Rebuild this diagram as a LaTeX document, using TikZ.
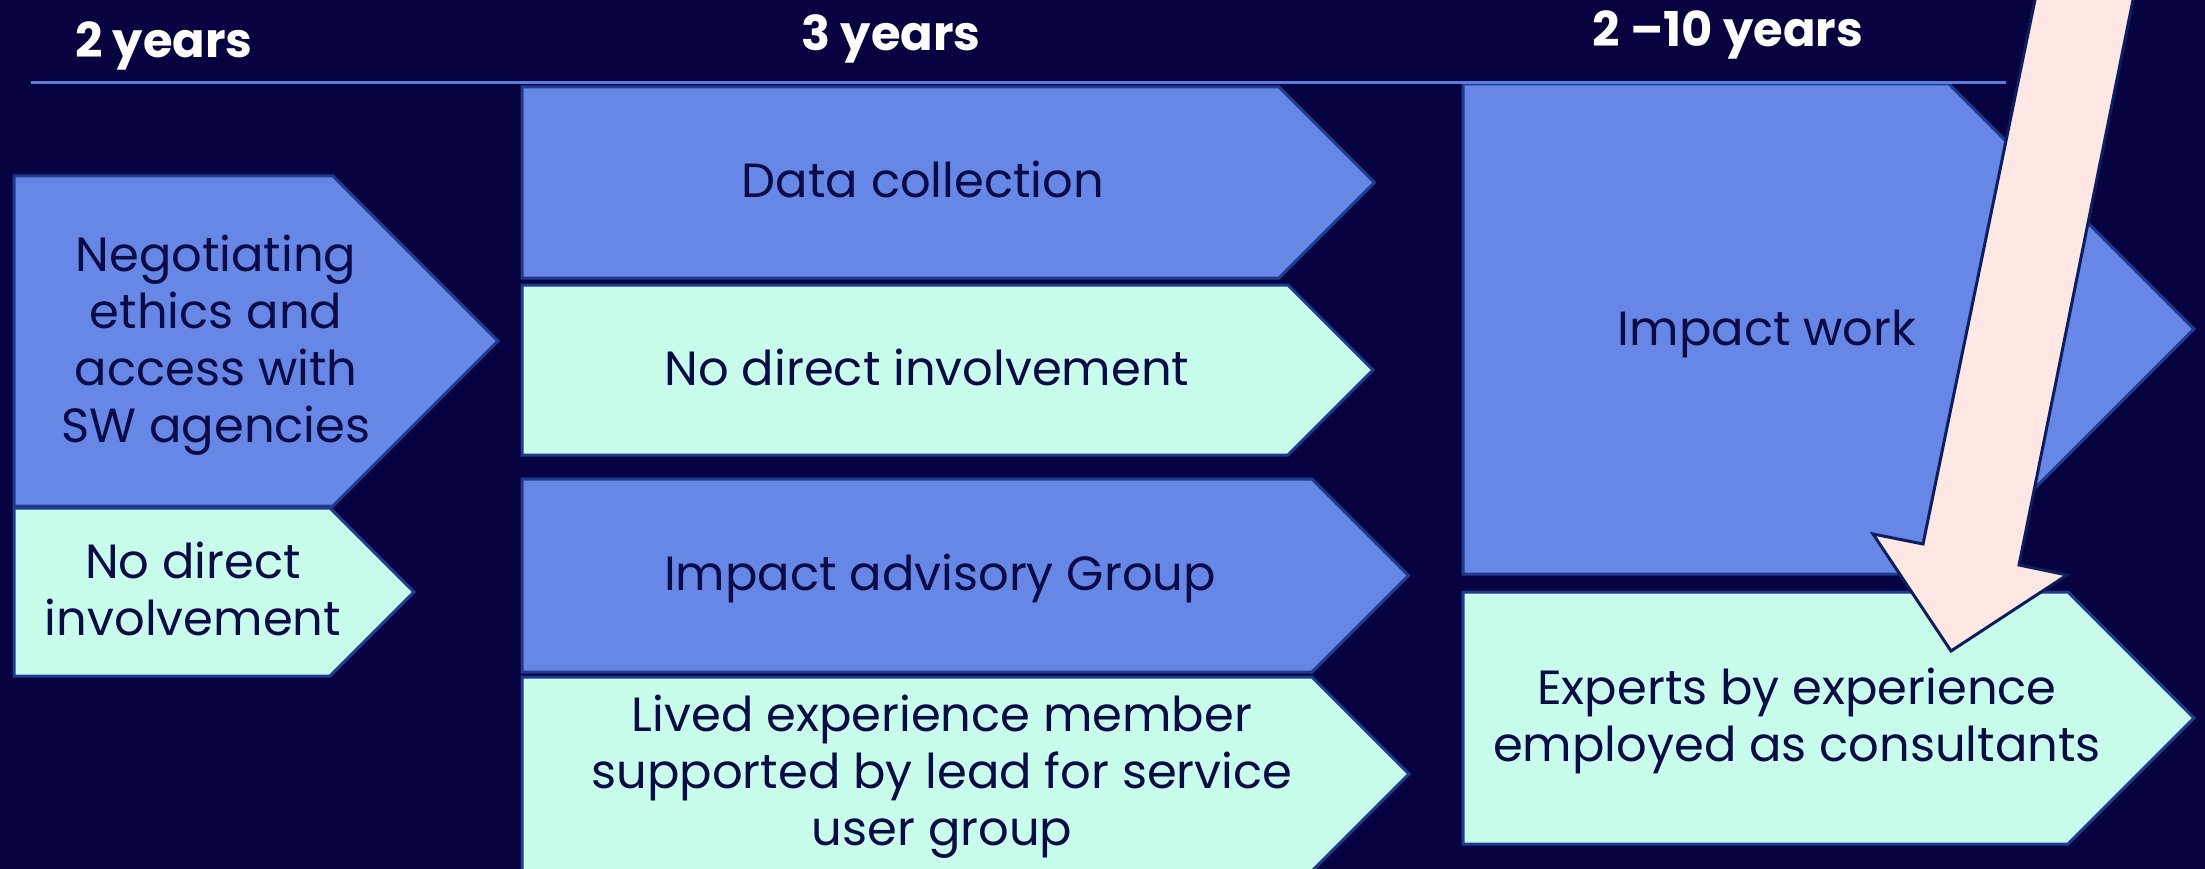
\documentclass[tikz,border=0pt]{standalone}
\usepackage{fontspec}
\setmainfont{Poppins}
\definecolor{bgc}{HTML}{060340}
\definecolor{bluefill}{HTML}{6787E7}
\definecolor{mintfill}{HTML}{C8FDEB}
\definecolor{pinkfill}{HTML}{FFE7E3}
\definecolor{boxline}{HTML}{1F3B8F}
\definecolor{arrowline}{HTML}{0D1E5E}
\definecolor{txt}{HTML}{0B0B46}
\definecolor{rule}{HTML}{5A7DE0}
\newcommand{\mychev}[5]{%
  \pgfmathsetmacro{\hh}{(#4-#2)/2}%
  \pgfmathsetmacro{\mm}{(#4+#2)/2}%
  \pgfmathsetmacro{\tt}{#3+\hh}%
  \filldraw[fill=#5, draw=boxline, line width=3pt, line join=miter]
    (#1,#2) -- (#3,#2) -- (\tt,\mm) -- (#3,#4) -- (#1,#4) -- cycle;}
\begin{document}
\begin{tikzpicture}[x=1pt,y=-1pt,
  bodytext/.style={text=txt, inner sep=0pt, align=center, font=\fontsize{48}{57}\selectfont},
  headtext/.style={text=white, inner sep=0pt, font=\bfseries\fontsize{48}{57}\selectfont}]
\useasboundingbox (0,0) rectangle (2205,869);
\fill[bgc] (0,0) rectangle (2205,869);
\begin{scope}
\clip (0,0) rectangle (2205,869);
% column 1
\mychev{14}{176}{333}{506}{bluefill}
\mychev{14}{508}{330}{676}{mintfill}
% column 2
\mychev{522}{87}{1279}{278}{bluefill}
\mychev{522}{285}{1288}{455}{mintfill}
\mychev{522}{479}{1312}{672}{bluefill}
\mychev{522}{677}{1312}{871}{mintfill}
% column 3
\mychev{1463}{84}{1949}{574}{bluefill}
\mychev{1463}{592}{2068}{844}{mintfill}
% header rule
\draw[rule, line width=3pt] (31,83) -- (2006,83);
% texts
\node[bodytext] (t1) at (216,345) {Negotiating\\ethics and\\access with\\SW agencies};
\node[bodytext] (t2) at (193,589) {No direct\\involvement};
\node[bodytext, anchor=base] (t3) at (923,198) {Data collection};
\node[bodytext, anchor=base] (t4) at (927,385) {No direct involvement};
\node[bodytext, anchor=base] (t5) at (940,590) {Impact advisory Group};
\node[bodytext] (t6) at (942,777) {Lived experience member\\supported by lead for service\\user group};
\node[bodytext, anchor=base] (t7) at (1767,345) {Impact work};
\node[bodytext] (t8) at (1797,721) {Experts by experience\\employed as consultants};
% headers
\node[headtext, anchor=base] (h1) at (164,58) {2 years};
\node[headtext, anchor=base] (h2) at (891,51) {3 years};
\node[headtext, anchor=base] (h3) at (1728,47) {2 –10 years};
% pink arrow
\filldraw[fill=pinkfill, draw=arrowline, line width=3pt, line join=miter]
  (2037,-10) -- (1923,544) -- (1873,534) -- (1951,651) -- (2067,575)
  -- (2019,565) -- (2135,-10) -- cycle;
\end{scope}
\end{tikzpicture}
\end{document}
